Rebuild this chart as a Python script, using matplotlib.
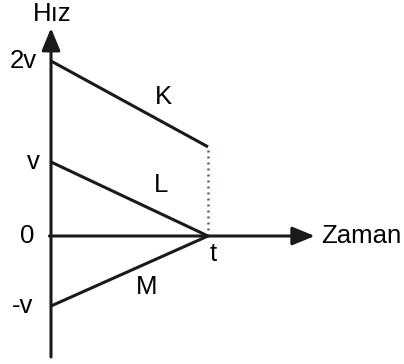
import numpy as np
import matplotlib
matplotlib.use("Agg")
import matplotlib.pyplot as plt

plt.rcParams['font.family'] = ['Liberation Sans', 'DejaVu Sans']

# time in units of t, speed in units of v
times = [0, 1]
speed_K = [2, 1.15]
speed_L = [1, 0]
speed_M = [-1, 0]
tick_values = [2, 1, 0, -1]
tick_labels = ["2v", "v", "0", "-v"]

# the drawing is not to scale: vertical spacing of v-levels differs
knots_val = np.array([-3.0, -1.0, 0.0, 1.0, 2.0, 4.0])
knots_px = np.array([-210.0, -70.0, 0.0, 74.0, 175.0, 377.0])


def fwd(v):
    return np.interp(v, knots_val, knots_px)


def inv(p):
    return np.interp(p, knots_px, knots_val)


fig = plt.figure(figsize=(4.04, 3.64), dpi=100)
ax = fig.add_axes([0, 0, 1, 1])
ax.set_yscale('function', functions=(fwd, inv))
ax.set_xlim(-51 / 157, (404 - 51) / 157)
ax.set_ylim(inv(-128), inv(236))
ax.axis('off')

lw = 2.2
ax.plot(times, speed_K, color='#1a1a1a', lw=lw, solid_capstyle='butt')
ax.plot(times, speed_L, color='#1a1a1a', lw=lw, solid_capstyle='butt')
ax.plot(times, speed_M, color='#1a1a1a', lw=lw, solid_capstyle='butt')
ax.plot([times[1], times[1]], [0, speed_K[1]], color='#4a6690', lw=1.8,
        ls=(0, (0.8, 1.6)))

arrow = dict(arrowstyle='-|>,head_length=0.68,head_width=0.28', lw=lw,
             color='#1a1a1a', mutation_scale=20, shrinkA=0, shrinkB=0)
ax.annotate('', xy=(0, inv(208)), xytext=(0, inv(-121)), arrowprops=arrow)
ax.annotate('', xy=(1.68, 0), xytext=(-0.01, 0), arrowprops=arrow)

fs = 18.5
tick_x = [-0.088, -0.07, -0.108, -0.11]
for val, lab, tx in zip(tick_values, tick_labels, tick_x):
    ax.text(tx, val, lab, ha='right', va='center', fontsize=fs)

ax.text(0.006, inv(222), "Hız", ha='center', va='center', fontsize=fs)
ax.text(1.72, 0, "Zaman", ha='left', va='center', fontsize=fs)
ax.text(1.03, inv(-18), "t", ha='center', va='center', fontsize=fs)
ax.text(0.713, inv(139), "K", ha='center', va='center', fontsize=fs)
ax.text(0.70, inv(51), "L", ha='center', va='center', fontsize=fs)
ax.text(0.61, inv(-51), "M", ha='center', va='center', fontsize=fs)

fig.savefig("out.png", dpi=100)
